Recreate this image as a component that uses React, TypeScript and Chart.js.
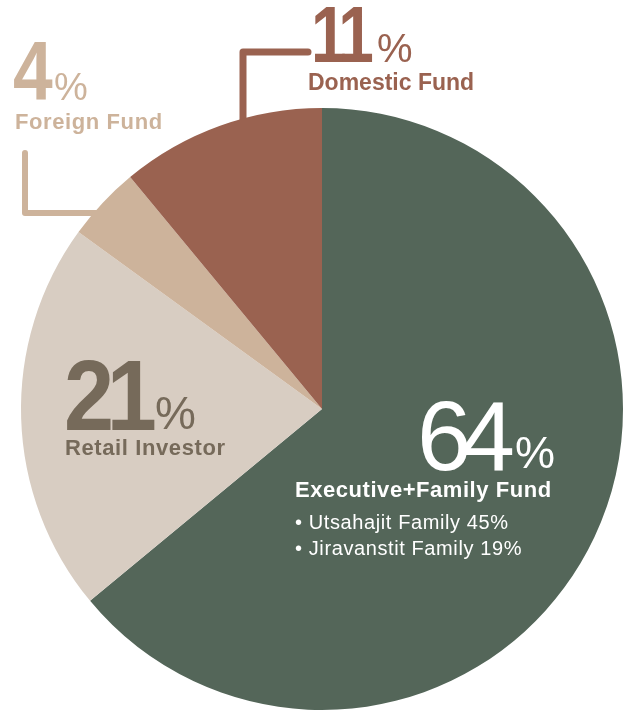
import React, { useEffect, useRef } from "react";
import { Chart, registerables } from "chart.js";

Chart.register(...registerables);

const categories = ["Executive+Family Fund", "Retail Investor", "Foreign Fund", "Domestic Fund"];
const shares = [64, 21, 4, 11];
const subItems = ["• Utsahajit Family 45%", "• Jiravanstit Family 19%"];

const sliceColors = ["#546659", "#D8CDC2", "#CDB39B", "#9A6250"];
const textColors = ["#FFFFFF", "#766A5A", "#CDB39B", "#9A6250"];

const FONT = '"Liberation Sans", Arial, sans-serif';

const labelPlugin = {
  id: "labelPlugin",
  beforeDatasetsDraw(chart: any) {
    const ctx = chart.ctx as CanvasRenderingContext2D;
    ctx.save();
    ctx.lineCap = "round";
    ctx.lineJoin = "round";
    // Domestic leader
    ctx.strokeStyle = sliceColors[3];
    ctx.lineWidth = 7;
    ctx.beginPath();
    ctx.moveTo(308, 52);
    ctx.lineTo(243, 52);
    ctx.lineTo(243, 140);
    ctx.stroke();
    // Foreign leader
    ctx.strokeStyle = sliceColors[2];
    ctx.lineWidth = 6;
    ctx.beginPath();
    ctx.moveTo(25, 153);
    ctx.lineTo(25, 213);
    ctx.lineTo(120, 213);
    ctx.stroke();
    ctx.restore();
  },
  afterDatasetsDraw(chart: any) {
    const ctx = chart.ctx as CanvasRenderingContext2D;
    const txt = (s: string, x: number, y: number, font: string, color: string, ls = 0, sx = 1) => {
      ctx.save();
      ctx.font = font;
      ctx.fillStyle = color;
      ctx.textBaseline = "alphabetic";
      ctx.textAlign = "left";
      (ctx as any).letterSpacing = ls + "px";
      ctx.translate(x, y);
      ctx.scale(sx, 1);
      ctx.fillText(s, 0, 0);
      ctx.restore();
    };
    // 64% Executive
    txt(String(shares[0]), 417, 470, `98px ${FONT}`, textColors[0], -11);
    txt("%", 515, 468, `45px ${FONT}`, textColors[0]);
    txt(categories[0], 295, 497, `bold 22px ${FONT}`, textColors[0], 0.55);
    txt(subItems[0], 295, 529, `20px ${FONT}`, textColors[0], 0.6);
    txt(subItems[1], 295, 555, `20px ${FONT}`, textColors[0], 0.6);
    // 21% Retail
    txt(String(shares[1]), 64, 430, `bold 100px ${FONT}`, textColors[1], -8, 0.9);
    txt("%", 155, 429, `46px ${FONT}`, textColors[1]);
    txt(categories[1], 65, 455, `bold 22px ${FONT}`, textColors[1], 0.6);
    // 4% Foreign
    txt(String(shares[2]), 13, 100, `bold 84px ${FONT}`, textColors[2], 0, 0.85);
    txt("%", 54, 100, `38px ${FONT}`, textColors[2]);
    txt(categories[2], 15, 129, `bold 22px ${FONT}`, textColors[2], 0.6);
    // 11% Domestic
    txt(String(shares[3]), 311, 62, `bold 80px ${FONT}`, textColors[3], -6, 0.8);
    txt("%", 377, 62, `40px ${FONT}`, textColors[3]);
    txt(categories[3], 308, 90, `bold 23px ${FONT}`, textColors[3]);
  },
};

export default function App() {
  const ref = useRef<HTMLCanvasElement | null>(null);
  useEffect(() => {
    if (!ref.current) return;
    const chart = new Chart(ref.current, {
      type: "pie",
      data: {
        labels: categories,
        datasets: [
          {
            data: shares,
            backgroundColor: sliceColors,
            borderWidth: 0,
          },
        ],
      },
      options: {
        responsive: false,
        animation: false,
        layout: { padding: { left: 21, right: 2, top: 108, bottom: 1 } },
        plugins: { legend: { display: false }, tooltip: { enabled: false } },
      },
      plugins: [labelPlugin],
    });
    return () => chart.destroy();
  }, []);
  return (
    <div style={{ position: "absolute", left: 0, top: 0, width: 625, height: 711, background: "#fff" }}>
      <canvas ref={ref} width={625} height={711} />
    </div>
  );
}
